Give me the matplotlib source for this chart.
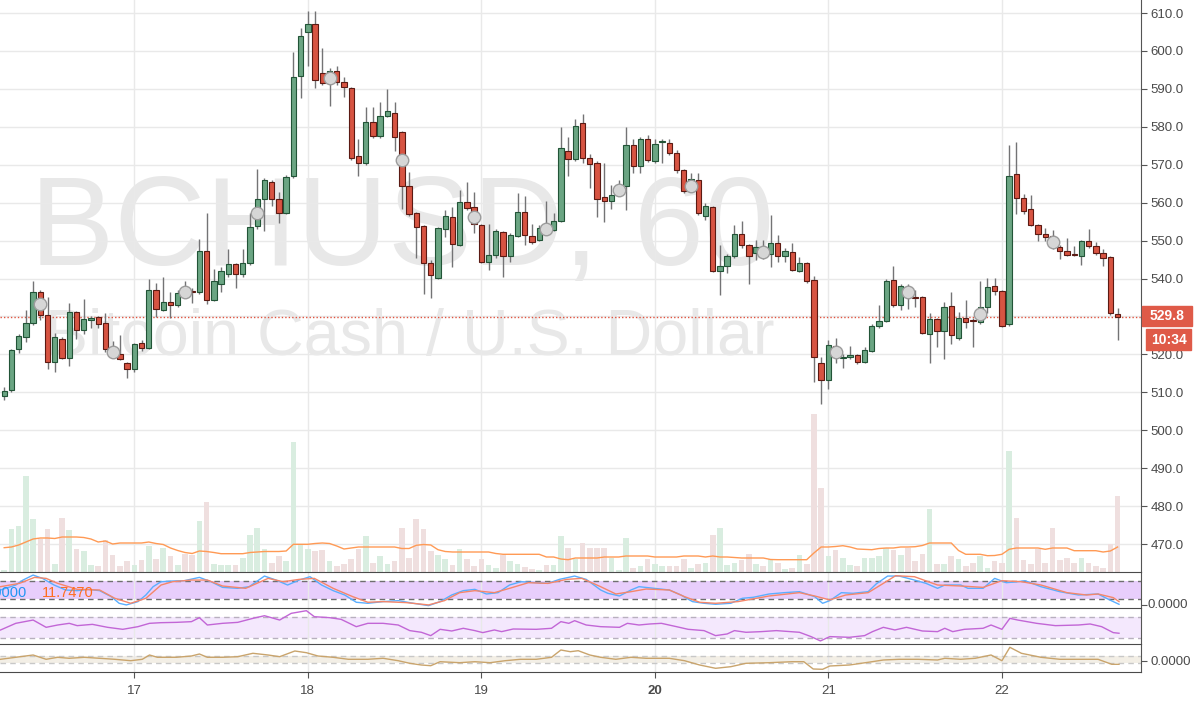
import matplotlib
matplotlib.use("Agg")
import matplotlib.pyplot as plt
from matplotlib.patches import Rectangle
from matplotlib.transforms import Bbox, TransformedBbox

plt.rcParams['font.family'] = ['Liberation Sans', 'DejaVu Sans']

# ---------------- data ----------------
# hourly candles, hour offset relative to 17 Mar 00:00
hours = list(range(-18, 137))

opens = [508.9, 510.6, 521.3, 524.7, 528.4, 536.4, 530.4, 518.1, 524.1, 519.1,
         531.1, 526.4, 529.1, 529.8, 528.4, 521.5, 520.1, 517.8, 516.1, 523.1,
         521.6, 537.0, 531.7, 533.7, 533.0, 536.7, 536.8, 536.4, 547.3, 534.3,
         538.5, 541.2, 543.8, 541.2, 544.2, 553.9, 561.0, 565.4, 561.0, 557.2,
         566.9, 593.4, 604.9, 607.1, 594.1, 591.5, 594.8, 591.9, 590.1, 572.3,
         570.4, 581.2, 577.7, 582.9, 583.6, 578.5, 564.4, 557.2, 553.9, 544.0,
         540.2, 553.0, 556.1, 548.8, 560.1, 558.8, 554.1, 544.4, 546.2, 552.3,
         545.9, 551.3, 557.5, 551.2, 550.2, 553.2, 552.8, 555.2, 573.6, 571.4,
         580.9, 571.9, 570.5, 561.4, 560.4, 562.5, 564.4, 575.2, 569.7, 576.7,
         571.0, 575.9, 575.6, 573.0, 568.6, 563.4, 566.0, 556.5, 558.8, 542.1,
         543.3, 546.0, 551.7, 548.8, 546.8, 547.5, 546.5, 549.3, 545.9, 546.9,
         542.0, 544.0, 539.6, 517.8, 513.2, 522.3, 519.0, 519.2, 519.8, 518.1,
         521.0, 527.5, 528.8, 539.6, 533.0, 537.8, 535.2, 535.0, 525.4, 529.3,
         526.2, 532.7, 524.2, 529.7, 528.9, 528.5, 532.5, 537.9, 536.6, 528.0,
         567.6, 561.2, 558.2, 554.2, 551.7, 551.2, 548.3, 547.3, 546.3, 545.9,
         549.9, 548.6, 546.8, 545.6, 530.6]

highs = [511.5, 521.5, 525.4, 531.7, 539.4, 537.0, 535.2, 525.6, 524.5, 533.6,
         531.5, 534.6, 530.0, 530.0, 530.8, 523.5, 525.1, 518.0, 523.0, 523.8,
         540.0, 538.7, 540.5, 536.5, 537.1, 539.4, 537.5, 550.3, 557.2, 542.4,
         543.1, 547.7, 544.0, 547.7, 557.2, 568.8, 566.5, 566.0, 562.9, 567.3,
         599.8, 606.0, 610.4, 610.4, 600.7, 595.5, 596.1, 593.2, 590.5, 576.7,
         585.3, 585.3, 586.6, 589.9, 586.6, 578.8, 568.2, 557.5, 554.0, 544.9,
         553.5, 558.1, 558.9, 563.3, 565.5, 562.7, 554.3, 554.5, 553.0, 552.5,
         552.0, 562.5, 561.8, 554.5, 554.0, 560.5, 557.3, 580.0, 577.4, 582.0,
         583.3, 572.8, 571.0, 570.4, 564.6, 566.0, 580.0, 576.7, 577.2, 577.8,
         576.7, 576.9, 576.9, 573.9, 569.0, 567.9, 567.9, 559.8, 559.0, 548.8,
         546.5, 554.1, 555.2, 549.2, 550.2, 550.2, 556.7, 551.5, 548.0, 549.4,
         545.8, 544.4, 540.7, 519.4, 523.8, 524.2, 520.0, 522.3, 520.1, 522.0,
         528.0, 533.0, 540.0, 543.4, 538.5, 538.5, 537.0, 535.5, 530.8, 529.6,
         533.9, 536.5, 531.3, 534.4, 529.5, 539.3, 540.2, 540.2, 537.0, 575.2,
         576.0, 562.3, 562.1, 554.5, 553.3, 552.8, 548.8, 550.6, 548.6, 550.1,
         553.0, 549.7, 547.7, 546.0, 532.2]

lows = [508.0, 510.2, 520.3, 523.3, 527.8, 529.1, 516.1, 515.4, 518.8, 516.9,
        524.0, 525.5, 527.0, 526.9, 520.7, 519.7, 518.5, 513.7, 515.4, 521.0,
        521.3, 529.9, 531.5, 529.5, 532.5, 535.5, 533.6, 536.0, 533.4, 534.0,
        536.5, 540.5, 537.4, 540.5, 543.6, 553.0, 552.5, 559.0, 554.7, 557.0,
        566.5, 587.5, 595.9, 590.1, 591.0, 585.5, 591.0, 587.8, 571.3, 567.0,
        570.0, 577.0, 577.0, 582.5, 573.6, 558.2, 556.5, 545.3, 535.9, 534.8,
        540.0, 551.0, 543.1, 548.5, 558.0, 551.9, 544.0, 542.2, 545.5, 540.3,
        544.4, 551.0, 548.8, 549.0, 549.9, 551.5, 552.5, 555.0, 566.9, 571.0,
        570.4, 563.8, 556.3, 555.0, 558.3, 562.0, 558.1, 567.7, 567.9, 570.8,
        570.5, 570.4, 572.5, 567.7, 562.5, 563.0, 556.8, 555.4, 541.8, 535.6,
        541.4, 545.5, 548.0, 538.6, 544.9, 545.1, 543.1, 544.4, 544.4, 542.0,
        541.6, 538.9, 512.8, 506.9, 510.8, 517.6, 516.3, 518.8, 517.5, 517.8,
        520.5, 527.0, 528.5, 532.5, 531.7, 532.0, 532.6, 525.3, 517.6, 522.0,
        518.7, 522.7, 523.8, 526.9, 522.0, 528.0, 530.9, 535.6, 527.3, 527.6,
        557.0, 557.0, 553.8, 549.9, 550.0, 547.7, 545.2, 546.0, 546.0, 543.5,
        548.0, 546.3, 543.3, 530.5, 523.8]

closes = [510.3, 521.1, 524.8, 528.4, 536.4, 530.4, 518.1, 524.5, 519.1, 531.1,
          526.4, 529.3, 529.7, 528.0, 521.3, 520.8, 518.7, 516.1, 522.7, 521.6,
          537.0, 532.0, 533.7, 533.0, 536.1, 536.1, 536.4, 547.3, 534.3, 539.3,
          542.0, 543.8, 541.2, 544.2, 553.5, 561.0, 566.0, 561.0, 557.4, 566.7,
          593.2, 604.0, 607.1, 592.3, 591.5, 594.8, 591.9, 590.4, 571.7, 570.5,
          581.2, 577.7, 582.9, 584.2, 577.2, 564.4, 557.0, 553.7, 544.2, 540.9,
          553.2, 556.5, 549.1, 560.1, 558.5, 554.3, 544.4, 546.2, 552.5, 545.9,
          551.5, 557.5, 551.5, 549.7, 553.4, 552.5, 555.2, 574.3, 571.4, 580.2,
          571.9, 570.2, 561.0, 560.4, 562.0, 563.5, 575.2, 569.7, 576.7, 571.2,
          575.4, 576.1, 573.0, 568.6, 563.2, 566.2, 557.2, 559.1, 542.1, 543.3,
          545.9, 551.7, 548.8, 546.0, 548.2, 546.8, 549.3, 545.9, 547.3, 542.2,
          544.0, 539.3, 519.2, 513.2, 522.5, 520.5, 519.4, 519.8, 518.1, 521.2,
          527.5, 528.8, 539.3, 533.0, 538.0, 535.8, 534.9, 525.7, 529.3, 526.2,
          532.4, 525.1, 529.5, 528.6, 528.7, 532.6, 537.8, 536.6, 527.6, 567.0,
          561.2, 557.9, 554.2, 551.7, 551.0, 548.8, 547.3, 546.2, 546.2, 549.9,
          548.6, 546.8, 545.5, 530.9, 529.8]

volume = [1.7, 42.7, 45.7, 95.7, 53.3, 33.3, 42.7, 7.7, 54.3, 41.7,
          23.3, 20.7, 6.7, 5.7, 31.7, 16.7, 5.7, 10.7, 6.7, 11.7,
          25.7, 12.7, 24.3, 15.7, 6.7, 18.3, 17.3, 51, 70, 7.7,
          6.7, 6.7, 6.7, 14.3, 36.7, 44.3, 22.7, 9.3, 15.7, 10.7,
          130, 26.7, 22.7, 20.7, 21.7, 10.7, 5.7, 7.7, 12.7, 23.3,
          35.7, 9.3, 15.7, 7.7, 10.7, 44.3, 14.3, 53.3, 42.7, 20.7,
          16.7, 12.7, 6.7, 22.7, 13.3, 5.7, 12.7, 6.7, 4.3, 16.7,
          10.7, 7.7, 5, 2.7, 1.7, 6.7, 6.7, 35.7, 24.3, 12.7,
          29, 24.3, 24.3, 24.3, 14.3, 2, 34.3, 4.3, 5.7, 13.3,
          7.7, 5.7, 5.7, 5.7, 13.3, 4.3, 7.7, 9.3, 36.7, 44.3,
          6.7, 9.3, 11.7, 17.7, 7.7, 5.7, 13.3, 9.3, 2.7, 4.3,
          16.7, 7.7, 158.3, 84.3, 15.7, 21.7, 14.3, 6.7, 5.7, 14.3,
          14.3, 15.7, 24.3, 21.7, 16.7, 24.3, 10.7, 17.7, 62.7, 7.7,
          7.7, 15.7, 12.7, 5.7, 9.3, 15.7, 4.3, 10.7, 9.3, 120.7,
          54.3, 11.7, 7.7, 23.3, 9.3, 44.3, 11.7, 14.3, 9.3, 14.3,
          9.3, 5.7, 4.3, 28.3, 76]

volume_ma = [24.3, 25, 27, 30, 33, 34, 34, 33.5, 35, 35,
             35, 34.5, 33, 30, 31, 28, 29, 29, 29, 29,
             30, 28.5, 27.5, 24, 21.5, 19.5, 18.5, 21, 20.5, 19.5,
             18.3, 18.3, 18.3, 18.3, 19.5, 20, 20.5, 20.5, 20.5, 21,
             27.7, 27.7, 27.7, 28.5, 29, 28.5, 26, 23, 24, 25,
             25, 25, 25, 25, 25, 23.5, 23.5, 26.7, 27.5, 27,
             22.3, 20.5, 20, 20, 20, 20, 20, 20, 18.5, 17.7,
             17.7, 17.7, 17.7, 17.7, 17.7, 15, 15, 13, 12.3, 14,
             14, 14, 14, 15, 15, 15, 16, 16, 16, 16,
             15, 15, 15, 15, 16, 16, 16, 15, 16, 15,
             15, 14.5, 14, 14, 14, 14, 12.5, 12.3, 12.3, 12.3,
             12.3, 12.3, 19, 25, 25, 25.5, 26.3, 25, 23, 22.7,
             22.3, 23.5, 24, 24, 25, 25, 25.3, 26.5, 29, 29,
             29, 29, 21.5, 17.7, 17.7, 17.7, 16.3, 16.5, 17.7, 22.7,
             24, 24, 24, 24, 22.7, 24, 24, 24, 21.3, 21.3,
             21.3, 21.3, 20, 21, 25]

circle_hours = [-13, -3, 7, 17, 27, 37, 47, 57, 67, 77, 87, 97, 107, 117, 127]
circle_values = [533.3, 520.7, 536.5, 557.2, 592.9, 571.2, 556.3, 553.0, 563.3,
                 564.4, 547.1, 520.7, 536.5, 530.6, 549.5]

stoch_k = [(-18.5, 50), (-16.4, 66.1), (-15.4, 82.1), (-14, 98.2), (-12.7, 87.5),
           (-11.1, 66.1), (-9.5, 50), (-7.9, 47.9), (-6.4, 52.1), (-4.8, 47.9),
           (-3.2, 28.6), (-2.1, 7.1), (-1.1, 1.8), (0.5, 12.5), (1.6, 33.9),
           (2.6, 60.7), (3.7, 76.8), (5.3, 79), (6.9, 80), (9, 90.7),
           (10.6, 76.8), (12.2, 58.5), (14.3, 55.4), (15.9, 60.7), (18, 95),
           (19.6, 82.1), (21.2, 66.1), (22.8, 82.1), (24.3, 92.9), (25.9, 66.1),
           (27.5, 47.9), (29.1, 33.9), (30.7, 10.4), (32.3, 7.1), (34.4, 12.5),
           (36.5, 15.7), (38.6, 7.1), (40.7, -0.4), (42.3, 12.5), (43.9, 33.9),
           (45.5, 47.9), (47.1, 52.1), (48.7, 37.1), (50.3, 41.4), (51.9, 66.1),
           (53.5, 76.8), (55.6, 73.6), (57.2, 71.4), (58.8, 84.3), (60.9, 95),
           (62.5, 84.3), (64.5, 50), (65.5, 39.3), (67.1, 30.7), (68.7, 50),
           (69.8, 60.7), (71.9, 55.4), (74, 50), (75.6, 33.9), (77.2, 12.5),
           (78.8, 7.1), (80.4, 3.9), (82.5, 7.1), (84.1, 23.2), (85.6, 26.4),
           (87.8, 37.1), (89.9, 41.4), (92, 44.6), (94.1, 28.6), (95.2, 7.1),
           (96.2, 15.7), (97.8, 41.4), (99.4, 39.3), (101.5, 44.6), (102.6, 69.3),
           (104.2, 95), (105.8, 95), (107.9, 82.1), (109.5, 71.4), (111.1, 55.4),
           (112.1, 66.1), (114.3, 66.1), (115.3, 55.4), (117.4, 55.4), (119, 87.5),
           (120.6, 73.6), (122.2, 76.8), (123.2, 80), (125.4, 60.7), (128, 44.6),
           (130.6, 33.9), (133.3, 37.1), (134.9, 18), (136.2, 3.9)]

stoch_d = [(-18.5, 60.7), (-15.9, 71.4), (-13.8, 90.7), (-12.2, 87.5), (-10.6, 71.4),
           (-7.9, 52.1), (-4.8, 50), (-2.7, 23.2), (-0.5, 7.1), (1.6, 23.2),
           (3.7, 66.1), (5.3, 76.8), (7.9, 82.1), (10.1, 82.1), (12.2, 62.9),
           (15.4, 55.4), (18.5, 87.5), (20.6, 76.8), (22.8, 84.3), (24.9, 87.5),
           (27.5, 55.4), (30.2, 28.6), (32.3, 10.4), (34.4, 12.5), (37.6, 9.3),
           (40.7, 1.8), (42.9, 15.7), (45, 41.4), (47.1, 47.9), (49.8, 41.4),
           (51.9, 55.4), (54.5, 73.6), (57.2, 71.4), (59.8, 84.3), (61.9, 87.5),
           (64.5, 60.7), (66.6, 37.1), (68.7, 44.6), (70.8, 53.2), (74, 50),
           (76.1, 28.6), (78.2, 10.4), (80.4, 7.1), (83.5, 12.5), (87.8, 30.7),
           (92, 41.4), (94.1, 30.7), (96.2, 17.9), (98.4, 33.9), (101.5, 41.4),
           (103.6, 71.4), (105.3, 96.1), (107.9, 92.9), (111.1, 66.1), (114.3, 62.9),
           (117.4, 58.5), (120, 80), (122.7, 76.8), (125.4, 66.1), (129, 41.4),
           (131.7, 33.9), (133.3, 37.1), (135.4, 25.4), (136.2, 12.5)]

rsi = [(-18.5, 45.4), (-16.4, 57.7), (-14, 63.8), (-12.2, 50.3), (-10.6, 54.6),
       (-9, 57.7), (-7.9, 53.4), (-5.8, 55.8), (-3.7, 50.3), (-1.6, 46.6),
       (0.5, 51.5), (2.1, 57.7), (3.7, 58.9), (5.8, 59.5), (7.9, 60.8),
       (9, 68.2), (10.1, 54.6), (12.2, 57.7), (14.3, 59.5), (16.4, 66.9),
       (18, 71.8), (20.1, 63.8), (21.7, 76.2), (23.8, 81.1), (24.9, 70),
       (27, 68.2), (28.6, 65.1), (30.7, 51.5), (32.3, 57.7), (34.4, 57.7),
       (36.5, 54.6), (38.1, 44.2), (39.7, 41.1), (41, 34.9), (42.3, 46.6),
       (43.9, 43.5), (45.5, 48.5), (47.1, 44.2), (48.2, 40.5), (49.8, 45.4),
       (50.8, 42.3), (52.4, 47.2), (55.6, 46.6), (57.7, 48.5), (59, 60.8),
       (60.1, 57.7), (60.9, 62.6), (62.5, 54.6), (64.5, 51.5), (67.1, 50.3),
       (68.2, 57.7), (69.8, 54.6), (71.3, 56.5), (72.9, 57.7), (75, 51.5),
       (76.6, 46.6), (78.8, 44.2), (80.4, 34.9), (82, 38), (83, 44.2),
       (84.6, 41.1), (86.7, 42.3), (88.8, 44.2), (92, 41.1), (93.6, 33.1),
       (94.9, 25.1), (96.2, 33.1), (98.9, 31.8), (101, 34.9), (102.1, 42.3),
       (103.6, 50.3), (105.2, 45.4), (106.8, 50.3), (109, 43.5), (111.1, 42.3),
       (112.1, 48.5), (113.2, 42.3), (114.8, 46.6), (117.4, 48.5), (118.5, 54.6),
       (120, 46.6), (121.1, 66.9), (122.2, 63.8), (124.8, 57.7), (127.4, 53.4),
       (130.6, 54.6), (132.2, 56.5), (133.8, 51.5), (135.4, 40.5), (136.2, 39.3)]

osc = [(-18.5, 1.4), (-16.4, 3.4), (-14, 5.7), (-12.2, 1.4), (-10.6, 3.4),
       (-9, 2.4), (-6.9, 3.4), (-4.8, 2.4), (-2.7, 1.4), (-0.5, 0),
       (1.1, 1.4), (2.1, 5.7), (3.2, 3.4), (5.8, 3.4), (7.9, 4.7),
       (9, 6.7), (10.1, 3.4), (12.2, 3.4), (14.3, 4), (16.4, 7.4),
       (18.5, 5.7), (20.1, 4), (22.2, 9.7), (23.8, 8), (25.4, 4.7),
       (27.5, 3.4), (29.6, 1.4), (32.3, 1.4), (34.4, 2.4), (36.5, 0),
       (38.1, -2.6), (39.7, -4.3), (41, -5), (42.3, -1), (45, -2),
       (47.1, -1), (49.2, -2), (51.3, 0), (53.4, 1.4), (55.6, 1.4),
       (57.7, 3.4), (59, 10.7), (60.3, 9), (61.4, 10), (63, 5.7),
       (64.5, 3.4), (66.6, 1.4), (68.7, 3.4), (70.8, 2.4), (74, 2.4),
       (76.1, 0), (78.2, -4.3), (80.4, -7.6), (82.5, -6), (84.6, -2.6),
       (87.8, -2), (91, -1), (92.6, -1), (93.9, -8.3), (95.2, -8.6),
       (96.2, -5.3), (98.9, -4.3), (101.5, -1.6), (103.6, 0.7), (105.8, 1.4),
       (108.4, 1.4), (111.1, 0.7), (112.1, 2.4), (114.3, 1.4), (116.3, 2.4),
       (118.5, 5.7), (120, 0), (121.1, 13.4), (122.7, 7.4), (125.4, 3.4),
       (128, 1.4), (130.6, 1.4), (133.3, 1.4), (135.2, -3.6), (136.2, -3.6)]

day_ticks = [0, 24, 48, 72, 96, 120]
day_labels = ['17', '18', '19', '20', '21', '22']
price_ticks = list(range(470, 611, 10))
last_price = 529.8
countdown = '10:34'
stoch_k_text = '0.0000'
stoch_d_text = '11.7470'
watermark_1 = 'BCHUSD, 60'
watermark_2 = 'Bitcoin Cash / U.S. Dollar'

# ---------------- figure ----------------
W, H = 1198, 705
fig = plt.figure(figsize=(W / 100, H / 100), dpi=100)
fig.patch.set_facecolor('white')


def rect(x0, y0, x1, y1):
    return [x0 / W, 1 - y1 / H, (x1 - x0) / W, (y1 - y0) / H]


AXR = 1141
XLIM = (-18.58, 139.24)
YLIM = (462.62, 613.43)
GRID = '#e9e9e9'
DARK = '#4a4a4a'
TXT = '#4a4a4a'

ax = fig.add_axes(rect(0, 0, AXR, 572))
vax = ax.twinx()
cax = ax.twinx()
for a in (vax, cax):
    a.patch.set_visible(False)
    a.set_yticks([])
    for s in a.spines.values():
        s.set_visible(False)

ax.set_xlim(*XLIM)
ax.set_ylim(*YLIM)
cax.set_ylim(*YLIM)
vax.set_ylim(0, 572)

ax.yaxis.tick_right()
ax.set_yticks(price_ticks)
# the 530.0 label sits under the last-price box in the reference
ax.set_yticklabels(['' if abs(p - last_price) < 5 else f'{p:.1f}' for p in price_ticks])
ax.tick_params(axis='y', length=4, color='#555555', labelcolor=TXT, labelsize=9.5, pad=3)
ax.set_xticks(day_ticks)
ax.tick_params(axis='x', length=0, labelbottom=False)
ax.grid(True, color=GRID, lw=1)
ax.set_axisbelow(True)
for s in ['top', 'left', 'bottom']:
    ax.spines[s].set_visible(False)
ax.spines['right'].set_color('#555555')

ax.text(0.352, 0.537, watermark_1, transform=ax.transAxes, ha='center', va='baseline',
        fontsize=91, color='#e8e8e8', zorder=0)
ax.text(0.359, 0.379, watermark_2, transform=ax.transAxes, ha='center', va='baseline',
        fontsize=46.5, color='#e8e8e8', zorder=0)

# volume
vcol = ['#d9ede0' if c >= o else '#efdfdf' for o, c in zip(opens, closes)]
vax.bar(hours, volume, width=0.78, color=vcol, zorder=1)
vax.plot(hours, volume_ma, color='#ff9a55', lw=1, zorder=2)

# candles
up = [c >= o for o, c in zip(opens, closes)]
body_low = [min(o, c) for o, c in zip(opens, closes)]
body_h = [max(abs(c - o), 0.25) for o, c in zip(opens, closes)]
fill = ['#6ba583' if u else '#d75442' for u in up]
edge = ['#225437' if u else '#5b1a13' for u in up]
cax.vlines(hours, lows, highs, color='#737375', lw=1, zorder=2)
cax.bar(hours, body_h, bottom=body_low, width=0.74, color=fill, edgecolor=edge,
        linewidth=0.8, zorder=3)
cax.plot(circle_hours, circle_values, 'o', ms=9, mfc='#d6d6d6', mec='#9c9c9c', mew=1, zorder=4)
cax.axhline(last_price, color='#e0533f', lw=1, ls=(0, (1, 1.5)), zorder=1)
cax.set_xlim(*XLIM)


def pane(y0, y1):
    a = fig.add_axes(rect(0, y0, AXR, y1), sharex=ax)
    a.grid(True, axis='x', color=GRID, lw=1)
    a.set_axisbelow(True)
    a.spines['left'].set_visible(False)
    a.spines['bottom'].set_visible(False)
    a.spines['top'].set_color(DARK)
    a.spines['right'].set_color('#555555')
    a.yaxis.tick_right()
    a.tick_params(axis='x', length=0, labelbottom=False)
    a.tick_params(axis='y', length=4, color='#555555', labelcolor=TXT, labelsize=9.5, pad=3)
    a.set_yticks([])
    return a


# stochastic
sax = pane(572, 608)
sax.set_ylim(-8.1, 108.1)
sax.axhspan(20, 80, color='#e8cefc', zorder=0, lw=0)
for lvl in (20, 80):
    sax.axhline(lvl, color='#6f6f6f', ls=(0, (4, 3)), lw=1, zorder=1)
sax.plot([p[0] for p in stoch_k], [p[1] for p in stoch_k], color='#5aaeff', lw=1, zorder=3)
sax.plot([p[0] for p in stoch_d], [p[1] for p in stoch_d], color='#f5866a', lw=1, zorder=3)
sax.set_yticks([0])
sax.set_yticklabels([''])
t0 = fig.text(1148 / W, 1 - 605.5 / H, '0.0000', ha='left', va='center', color=TXT, fontsize=9.5)
t0.set_clip_box(TransformedBbox(Bbox.from_extents(AXR / W, 1 - 608 / H, 1, 1 - 572 / H),
                                fig.transFigure))
t0.set_clip_on(True)
fig.text(27 / W, 1 - 593 / H, stoch_k_text, ha='right', va='center', color='#2196f3', fontsize=10.5)
fig.text(42 / W, 1 - 593 / H, stoch_d_text, ha='left', va='center', color='#ff6d1f', fontsize=10.5)

# RSI
rax = pane(608, 644)
rax.set_ylim(19.4, 86.1)
rax.axhspan(30, 70, color='#f4e8fd', zorder=0, lw=0)
for lvl in (30, 70):
    rax.axhline(lvl, color='#b8b0bf', ls=(0, (4, 3)), lw=1, zorder=1)
rax.plot([p[0] for p in rsi], [p[1] for p in rsi], color='#c266d6', lw=1, zorder=3)

# third oscillator
tax = pane(644, 672)
tax.set_ylim(-11.3, 16.7)
tax.axhspan(-2, 4.7, color='#f3efe6', zorder=0, lw=0)
for lvl in (-2, 4.7):
    tax.axhline(lvl, color='#c8c8c8', ls=(0, (4, 3)), lw=1, zorder=1)
tax.plot([p[0] for p in osc], [p[1] for p in osc], color='#c9a46c', lw=1, zorder=3)
tax.set_yticks([0])
tax.set_yticklabels(['0.0000'])
tax.spines['bottom'].set_visible(True)
tax.spines['bottom'].set_color(DARK)
tax.set_xticks(day_ticks)
tax.set_xticklabels(day_labels)
tax.tick_params(axis='x', length=4, color='#555555', labelbottom=True, labelcolor=TXT,
                labelsize=9.5, pad=5)
tax.set_xlim(*XLIM)
ticks = tax.xaxis.get_major_ticks()
if len(ticks) > 3:
    ticks[3].label1.set_fontweight('bold')

# last price and countdown boxes
fig.add_artist(Rectangle((1142 / W, 1 - 326 / H), 50 / W, 20 / H, transform=fig.transFigure,
                         color='#df5a48', zorder=10))
fig.text(1167 / W, 1 - 316 / H, f'{last_price:.1f}', ha='center', va='center', color='white',
         fontsize=10, fontweight='bold', zorder=11)
fig.add_artist(Rectangle((1146 / W, 1 - 350 / H), 45 / W, 21 / H, transform=fig.transFigure,
                         color='#df5a48', zorder=10))
fig.text(1168.5 / W, 1 - 339.5 / H, countdown, ha='center', va='center', color='white',
         fontsize=10, fontweight='bold', zorder=11)

fig.savefig('out.png', dpi=100, facecolor='white')
